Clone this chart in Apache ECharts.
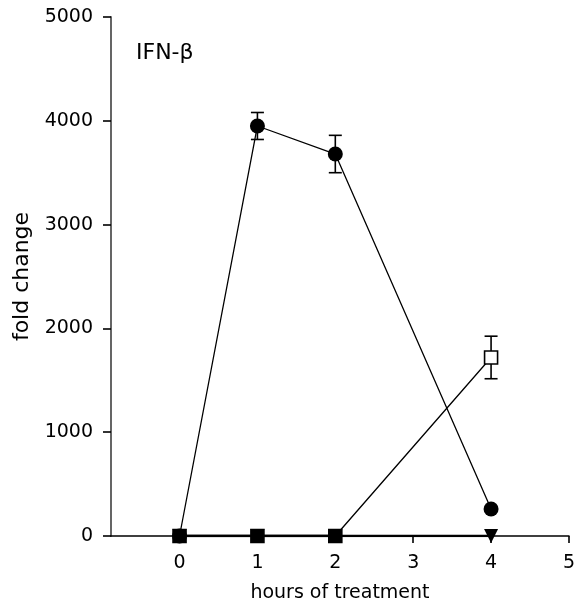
<!DOCTYPE html>
<html><head><meta charset="utf-8">
<script src="https://cdn.jsdelivr.net/npm/echarts@6/dist/echarts.min.js"></script>
<style>html,body{margin:0;padding:0;background:#fff}#c{width:578px;height:608px}</style>
</head><body><div id="c"></div>
<script>
const hours = [0, 1, 2, 4];
const xTicks = [0, 1, 2, 3, 4, 5];
const yTicks = [0, 1000, 2000, 3000, 4000, 5000];
const circleVals = [0, 3950, 3680, 260];
const circleErr = [0, 130, 180, 0];
const openSquareVals = [0, 0, 0, 1720];
const openSquareErr = [0, 0, 0, 205];
const filledSquareHours = [0, 1, 2];
const filledSquareVals = [0, 0, 0];
const triangleHours = [0, 1, 2, 4];
const triangleVals = [0, 0, 0, 0];

const pairs = (xs, ys) => xs.map((x, i) => [x, ys[i]]);
const errData = (xs, ys, es) => xs.map((x, i) => [x, ys[i], es[i]]).filter(d => d[2] > 0);

const errSeries = (data) => ({
  type: 'custom', z: 1, silent: true,
  renderItem: (params, api) => {
    const x = api.value(0), y = api.value(1), e = api.value(2);
    const top = api.coord([x, y + e]), bot = api.coord([x, y - e]);
    const w = 6.5;
    const style = { stroke: '#000', lineWidth: 1.6 };
    return { type: 'group', children: [
      { type: 'line', shape: { x1: top[0], y1: top[1], x2: bot[0], y2: bot[1] }, style },
      { type: 'line', shape: { x1: top[0] - w, y1: top[1], x2: top[0] + w, y2: top[1] }, style },
      { type: 'line', shape: { x1: bot[0] - w, y1: bot[1], x2: bot[0] + w, y2: bot[1] }, style }
    ]};
  },
  data
});

const FONT = 'DejaVu Sans';
const lineBase = { type: 'line', lineStyle: { color: '#000', width: 1.3 }, z: 3, animation: false };

const chart = echarts.init(document.getElementById('c'));
chart.setOption({
  animation: false,
  backgroundColor: '#fff',
  grid: { left: 111, right: 7, top: 17, bottom: 72 },
  title: { text: 'IFN-β', left: 131, top: 37, textStyle: { fontFamily: FONT, fontSize: 22, fontWeight: 'normal', color: '#000' } },
  xAxis: {
    type: 'value', min: -0.88, max: 5,
    name: 'hours of treatment', nameLocation: 'middle', nameGap: 48,
    nameTextStyle: { fontFamily: FONT, fontSize: 19, color: '#000' },
    axisLine: { onZero: false, lineStyle: { color: '#000', width: 1.6 } },
    axisTick: { show: true, customValues: xTicks, length: 7, lineStyle: { color: '#000', width: 1.6 } },
    axisLabel: { customValues: xTicks, fontFamily: FONT, fontSize: 19, color: '#000', margin: 18 },
    splitLine: { show: false }
  },
  yAxis: {
    type: 'value', min: 0, max: 5000, interval: 1000,
    name: 'fold change', nameLocation: 'middle', nameGap: 78, nameRotate: 90,
    nameTextStyle: { fontFamily: FONT, fontSize: 22, color: '#000' },
    axisLine: { onZero: false, lineStyle: { color: '#555', width: 1.8 } },
    axisTick: { length: 8, lineStyle: { color: '#000', width: 1.6 } },
    axisLabel: { fontFamily: FONT, fontSize: 19, color: '#000', margin: 18,
      formatter: v => yTicks.includes(v) ? String(v) : '' },
    splitLine: { show: false }
  },
  series: [
    errSeries(errData(hours, circleVals, circleErr)),
    errSeries(errData(hours, openSquareVals, openSquareErr)),
    Object.assign({}, lineBase, { name: 'circle', data: pairs(hours, circleVals), symbol: 'circle', symbolSize: 15, itemStyle: { color: '#000' } }),
    Object.assign({}, lineBase, { name: 'open square', data: pairs(hours, openSquareVals), symbol: 'rect', symbolSize: 13, itemStyle: { color: '#fff', borderColor: '#000', borderWidth: 1.6 } }),
    Object.assign({}, lineBase, { name: 'filled square', data: pairs(filledSquareHours, filledSquareVals), symbol: 'rect', symbolSize: 13, itemStyle: { color: '#000' }, lineStyle: { color: '#000', width: 2.5 } }),
    Object.assign({}, lineBase, { name: 'triangle', data: pairs(triangleHours, triangleVals), symbol: 'triangle', symbolRotate: 180, symbolSize: 14, itemStyle: { color: '#000' }, lineStyle: { color: '#000', width: 2.5 } })
  ]
});
</script></body></html>
